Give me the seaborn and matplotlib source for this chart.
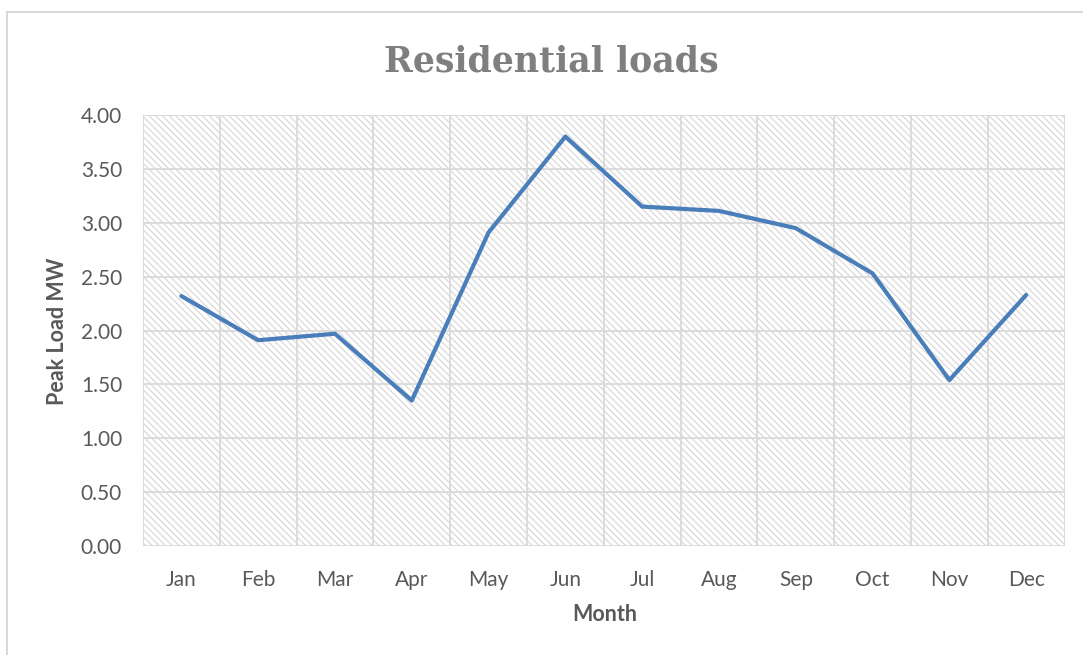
import numpy as np
import pandas as pd
import matplotlib
matplotlib.use('Agg')
import matplotlib.pyplot as plt
import seaborn as sns
from matplotlib.patches import Rectangle
from matplotlib.lines import Line2D
from matplotlib.ticker import FormatStrFormatter

# data
months = ['Jan', 'Feb', 'Mar', 'Apr', 'May', 'Jun', 'Jul', 'Aug', 'Sep', 'Oct', 'Nov', 'Dec']
peak_load = [2.32, 1.91, 1.97, 1.35, 2.91, 3.80, 3.15, 3.11, 2.95, 2.53, 1.54, 2.33]
y_ticks = [0.0, 0.5, 1.0, 1.5, 2.0, 2.5, 3.0, 3.5, 4.0]

sns.set_theme(style='white')
plt.rcParams['font.family'] = ['Lato', 'DejaVu Sans']
plt.rcParams['hatch.color'] = '#d9d9d9'
plt.rcParams['hatch.linewidth'] = 0.9

df = pd.DataFrame({'Month': months, 'Peak Load MW': peak_load})

fig = plt.figure(figsize=(10.83, 6.55), dpi=100)
ax = fig.add_axes([0.132, 0.1664, 0.851, 0.658])

# hatched plot area like the excel pattern fill
ax.add_patch(Rectangle((0, 0), 1, 1, transform=ax.transAxes, facecolor='white',
                       edgecolor='#d9d9d9', hatch='\\' * 5, linewidth=0, zorder=0))

sns.lineplot(data=df, x='Month', y='Peak Load MW', ax=ax, color='#4a7ebb',
             linewidth=3, sort=False, zorder=3)

ax.set_xlim(-0.5, len(months) - 0.5)
ax.set_ylim(0, 4)
ax.set_yticks(y_ticks)
ax.yaxis.set_major_formatter(FormatStrFormatter('%.2f'))

for y in y_ticks:
    ax.axhline(y, color='#d9d9d9', lw=1.3, zorder=1)
for x in np.arange(-0.5, len(months), 1):
    ax.axvline(x, color='#d9d9d9', lw=1.3, zorder=1)

for s in ax.spines.values():
    s.set_visible(False)
ax.grid(False)
ax.tick_params(axis='both', length=0, labelsize=15, labelcolor='#595959')
ax.tick_params(axis='y', pad=15)
ax.tick_params(axis='x', pad=17)

ax.set_xlabel('Month', fontsize=15.5, fontweight='bold', color='#595959', va='center')
ax.xaxis.set_label_coords(0.501, -0.158)
ax.set_ylabel('Peak Load MW', fontsize=15.5, fontweight='bold', color='#595959', va='center')
ax.yaxis.set_label_coords(-0.093, 0.499)

fig.text(0.509, 1 - 61 / 655, 'Residential loads', ha='center', va='center',
         family='DejaVu Serif', fontweight='bold', fontsize=25, color='#7f7f7f')

# chart area border (cropped on the right and bottom)
fig.add_artist(Line2D([7 / 1083, 7 / 1083], [0, 1 - 12 / 655], color='#d9d9d9', lw=1.5))
fig.add_artist(Line2D([7 / 1083, 1], [1 - 12 / 655, 1 - 12 / 655], color='#d9d9d9', lw=1.5))

fig.savefig('out.png', dpi=100)
